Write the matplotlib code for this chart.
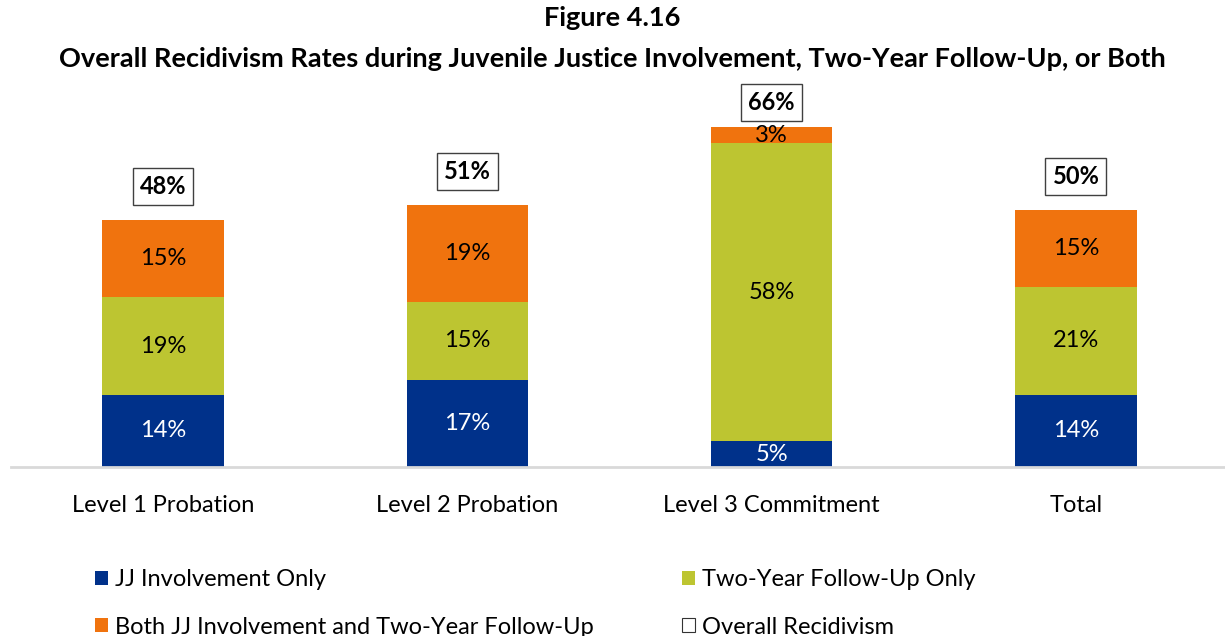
import matplotlib
matplotlib.use("Agg")
import matplotlib.pyplot as plt
from matplotlib.patches import Rectangle
import numpy as np

plt.rcParams['font.family'] = ['Lato', 'DejaVu Sans']

categories = ["Level 1 Probation", "Level 2 Probation", "Level 3 Commitment", "Total"]
jj_only = [14, 17, 5, 14]
followup_only = [19, 15, 58, 21]
both = [15, 19, 3, 15]
overall = [48, 51, 66, 50]

series_names = ["JJ Involvement Only", "Two-Year Follow-Up Only",
                "Both JJ Involvement and Two-Year Follow-Up", "Overall Recidivism"]

c_blue = "#00318A"
c_green = "#BDC531"
c_orange = "#F0730E"

fig = plt.figure(figsize=(12.25, 6.36), dpi=100)
ax = fig.add_axes([11/1225, (636-467)/636, 1217/1225, 386/636])

x = np.arange(len(categories))
w = 0.4
ax.bar(x, jj_only, w, color=c_blue)
ax.bar(x, followup_only, w, bottom=jj_only, color=c_green)
bottom3 = np.array(jj_only) + np.array(followup_only)
ax.bar(x, both, w, bottom=bottom3, color=c_orange)

fs = 17
for i in range(len(categories)):
    ax.text(x[i], jj_only[i]/2, f"{jj_only[i]}%", ha='center', va='center',
            color='white', fontsize=fs)
    ax.text(x[i], jj_only[i] + followup_only[i]/2, f"{followup_only[i]}%",
            ha='center', va='center', color='black', fontsize=fs)
    ax.text(x[i], bottom3[i] + both[i]/2, f"{both[i]}%", ha='center', va='center',
            color='black', fontsize=fs)

offsets = [24, 24, 18, 24]
for i in range(len(categories)):
    ax.annotate(f"{overall[i]}%", xy=(x[i], overall[i]), xytext=(0, offsets[i]),
                textcoords='offset points', ha='center', va='center',
                fontsize=fs, fontweight='bold', color='black',
                bbox=dict(boxstyle='square,pad=0.3', fc='white', ec='#404040', lw=1.0))

ax.set_xlim(-0.5, 3.5)
ax.set_ylim(0, 75)
for s in ['top', 'right', 'left']:
    ax.spines[s].set_visible(False)
ax.spines['bottom'].set_color('#d9d9d9')
ax.spines['bottom'].set_linewidth(2)
ax.set_yticks([])
ax.set_xticks(x)
ax.set_xticklabels(categories, fontsize=fs)
ax.tick_params(axis='x', length=0, pad=20)

fig.text(0.5, 1 - 18/636, "Figure 4.16", ha='center', va='center',
         fontsize=19.5, fontweight='bold')
fig.text(0.5, 1 - 59/636,
         "Overall Recidivism Rates during Juvenile Justice Involvement, Two-Year Follow-Up, or Both",
         ha='center', va='center', fontsize=19.5, fontweight='bold')

h_jj = Rectangle((0, 0), 1, 1, fc=c_blue, ec='none')
h_fu = Rectangle((0, 0), 1, 1, fc=c_green, ec='none')
h_both = Rectangle((0, 0), 1, 1, fc=c_orange, ec='none')
h_ov = Rectangle((0, 0), 1, 1, fc='white', ec='#333333', lw=0.8)

leg = fig.legend([h_jj, h_both, h_fu, h_ov],
                 [series_names[0], series_names[2], series_names[1], series_names[3]],
                 ncol=2, loc='upper left', bbox_to_anchor=(95/1225, 1 - 569/636),
                 frameon=False, fontsize=fs, handlelength=0.55, handleheight=0.55,
                 handletextpad=0.3, columnspacing=3.72, labelspacing=1.13,
                 borderaxespad=0, borderpad=0)

fig.savefig("out.png", dpi=100)
